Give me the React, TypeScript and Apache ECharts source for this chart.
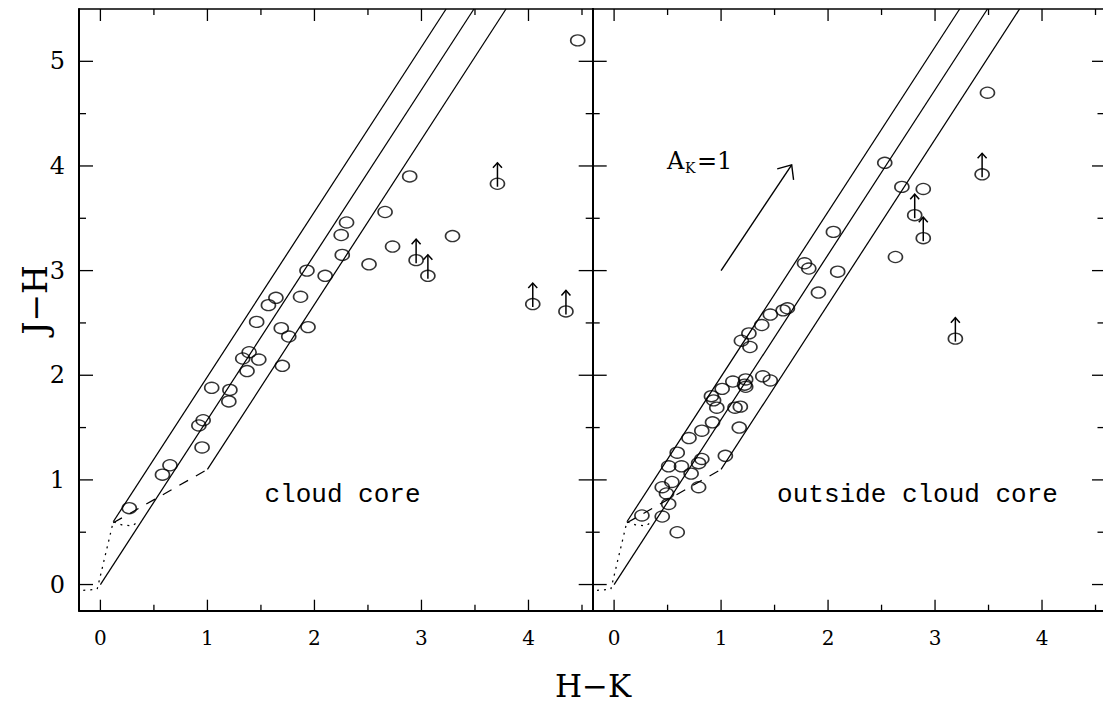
import React, { useEffect, useRef } from "react";
import * as echarts from "echarts";

// ---------- data ----------
const leftXRange = [-0.2, 4.6];
const rightXRange = [-0.2, 4.57];
const yRange = [-0.25, 5.5];

const xMajorTicks = [0, 1, 2, 3, 4];
const xMinorTicks = [0.5, 1.5, 2.5, 3.5, 4.5];
const yMajorTicks = [0, 1, 2, 3, 4, 5];
const yMinorTicks = [0.5, 1.5, 2.5, 3.5, 4.5];

const bandUpper = [[0.12, 0.6], [3.23, 5.5]];
const bandMiddle = [[0, 0], [3.49, 5.5]];
const bandLower = [[1.0, 1.1], [3.79, 5.5]];
const cttsLocus = [[0.12, 0.59], [1.0, 1.1]];
const dwarfLocus = [[-0.16, -0.055], [-0.03, -0.045], [0.12, 0.6], [0.2, 0.57], [0.3, 0.56], [0.35, 0.6]];

const leftCircles = [
  [0.27, 0.73], [0.58, 1.05], [0.65, 1.14], [0.92, 1.52], [0.96, 1.57], [0.95, 1.31],
  [1.04, 1.88], [1.21, 1.86], [1.2, 1.75], [1.33, 2.16], [1.39, 2.22], [1.37, 2.04],
  [1.48, 2.15], [1.46, 2.51], [1.57, 2.67], [1.64, 2.74], [1.69, 2.45], [1.7, 2.09],
  [1.76, 2.37], [1.87, 2.75], [1.93, 3.0], [1.94, 2.46], [2.1, 2.95], [2.25, 3.34],
  [2.26, 3.15], [2.3, 3.46], [2.51, 3.06], [2.66, 3.56], [2.73, 3.23], [2.89, 3.9],
  [3.29, 3.33], [4.46, 5.2],
];
const leftLimits = [[2.95, 3.1], [3.06, 2.95], [3.71, 3.83], [4.04, 2.68], [4.35, 2.61]];

const rightCircles = [
  [0.26, 0.66], [0.45, 0.65], [0.59, 0.5], [0.51, 0.77], [0.49, 0.87], [0.45, 0.93],
  [0.54, 0.98], [0.79, 0.93], [0.51, 1.13], [0.63, 1.13], [0.72, 1.06], [0.79, 1.16],
  [0.82, 1.2], [0.59, 1.26], [1.04, 1.23], [0.7, 1.4], [0.82, 1.47], [0.92, 1.55],
  [1.17, 1.5], [0.96, 1.69], [0.93, 1.76], [0.91, 1.8], [1.13, 1.69], [1.18, 1.7],
  [1.01, 1.87], [1.11, 1.94], [1.23, 1.96], [1.22, 1.91], [1.23, 1.89], [1.39, 1.99],
  [1.46, 1.95], [1.19, 2.33], [1.27, 2.27], [1.26, 2.4], [1.38, 2.48], [1.46, 2.58],
  [1.58, 2.62], [1.62, 2.64], [1.91, 2.79], [1.78, 3.07], [1.82, 3.02], [2.09, 2.99],
  [2.05, 3.37], [2.63, 3.13], [2.53, 4.03], [2.69, 3.8], [2.89, 3.78], [3.49, 4.7],
];
const rightLimits = [[3.44, 3.92], [2.81, 3.53], [2.89, 3.31], [3.19, 2.35]];

const reddeningVector = [[1.0, 3.0, 1.66, 4.01]];

const panelLabels = ["cloud core", "outside cloud core"];

// ---------- styles ----------
const SERIF = '"DejaVu Serif", serif';
const MONO = '"Liberation Mono", monospace';
const BLACK = "#000";

function xAxis(gridIndex: number, position: "bottom" | "top", range: number[]) {
  const bottom = position === "bottom";
  return {
    type: "value",
    gridIndex,
    position,
    min: range[0],
    max: range[1],
    minInterval: 1,
    maxInterval: 1,
    axisLine: { show: true, onZero: false, lineStyle: { color: BLACK, width: bottom ? 2 : 1.5 } },
    axisTick: { show: false },
    minorTick: { show: false },
    axisLabel: {
      show: bottom,
      margin: 17,
      showMinLabel: false,
      showMaxLabel: false,
      color: BLACK,
      fontFamily: SERIF,
      fontSize: 20,
    },
    splitLine: { show: false },
  };
}

function yAxis(gridIndex: number, position: "left" | "right", labels: boolean, line = true) {
  return {
    type: "value",
    gridIndex,
    position,
    min: yRange[0],
    max: yRange[1],
    minInterval: 1,
    maxInterval: 1,
    axisLine: { show: line, onZero: false, lineStyle: { color: BLACK, width: 2 } },
    axisTick: { show: false },
    minorTick: { show: false },
    axisLabel: {
      show: labels,
      margin: 14,
      showMinLabel: false,
      showMaxLabel: false,
      color: BLACK,
      fontFamily: SERIF,
      fontSize: 24,
    },
    splitLine: { show: false },
  };
}

// tick marks on all four sides of a panel, placed through the panel's scales
function tickSeries(panel: number, rightTickLen: number) {
  return {
    type: "custom",
    xAxisIndex: panel * 2,
    yAxisIndex: panel * 2,
    data: [[0, 0]],
    silent: true,
    z: 5,
    renderItem: (params: any, api: any) => {
      const cs = params.coordSys;
      const top = cs.y;
      const bottom = cs.y + cs.height;
      const left = cs.x;
      const right = cs.x + cs.width;
      const style = { stroke: BLACK, lineWidth: 1.3 };
      const children: any[] = [];
      const addX = (v: number, lenB: number, lenT: number) => {
        const px = api.coord([v, 0])[0];
        children.push({ type: "line", shape: { x1: px, y1: bottom, x2: px, y2: bottom - lenB }, style });
        children.push({ type: "line", shape: { x1: px, y1: top, x2: px, y2: top + lenT }, style });
      };
      const addY = (v: number, lenL: number, lenR: number) => {
        const py = api.coord([0, v])[1];
        children.push({ type: "line", shape: { x1: left, y1: py, x2: left + lenL, y2: py }, style });
        children.push({ type: "line", shape: { x1: right, y1: py, x2: right - lenR, y2: py }, style });
      };
      xMajorTicks.forEach((v) => addX(v, 11, 12));
      xMinorTicks.forEach((v) => addX(v, 6, 6));
      yMajorTicks.forEach((v) => addY(v, 14, rightTickLen));
      yMinorTicks.forEach((v) => addY(v, 7, rightTickLen / 2));
      return { type: "group", children };
    },
  };
}

function lineSeries(panel: number, data: number[][], type: any) {
  return {
    type: "line",
    xAxisIndex: panel * 2,
    yAxisIndex: panel * 2,
    data,
    symbol: "none",
    silent: true,
    lineStyle: { color: BLACK, width: 1.25, type },
  };
}

function circleSeries(panel: number, data: number[][]) {
  return {
    type: "scatter",
    xAxisIndex: panel * 2,
    yAxisIndex: panel * 2,
    data,
    symbol: "circle",
    symbolSize: [14, 11],
    silent: true,
    itemStyle: { color: "rgba(255,255,255,0)", borderColor: BLACK, borderWidth: 1.5 },
  };
}

function limitArrowSeries(panel: number, data: number[][]) {
  return {
    type: "custom",
    xAxisIndex: panel * 2,
    yAxisIndex: panel * 2,
    data,
    silent: true,
    renderItem: (_params: any, api: any) => {
      const p = api.coord([api.value(0), api.value(1)]);
      return {
        type: "group",
        children: [
          {
            type: "line",
            shape: { x1: p[0], y1: p[1] + 3, x2: p[0], y2: p[1] - 21 },
            style: { stroke: BLACK, lineWidth: 1.5 },
          },
          {
            type: "polyline",
            shape: { points: [[p[0] - 4.5, p[1] - 16], [p[0], p[1] - 21], [p[0] + 4.5, p[1] - 16]] },
            style: { stroke: BLACK, fill: "none", lineWidth: 1.5 },
          },
        ],
      };
    },
  };
}

function vectorSeries(panel: number, data: number[][]) {
  return {
    type: "custom",
    xAxisIndex: panel * 2,
    yAxisIndex: panel * 2,
    data,
    silent: true,
    renderItem: (_params: any, api: any) => {
      const a = api.coord([api.value(0), api.value(1)]);
      const b = api.coord([api.value(2), api.value(3)]);
      const ang = Math.atan2(a[1] - b[1], a[0] - b[0]);
      const L = 15;
      const spread = (41 * Math.PI) / 180;
      const p1 = [b[0] + L * Math.cos(ang + spread), b[1] + L * Math.sin(ang + spread)];
      const p2 = [b[0] + L * Math.cos(ang - spread), b[1] + L * Math.sin(ang - spread)];
      return {
        type: "group",
        children: [
          { type: "line", shape: { x1: a[0], y1: a[1], x2: b[0], y2: b[1] }, style: { stroke: BLACK, lineWidth: 1.4 } },
          { type: "polyline", shape: { points: [p1, b, p2] }, style: { stroke: BLACK, fill: "none", lineWidth: 1.4 } },
        ],
      };
    },
  };
}

function panelSeries(panel: number, circles: number[][], limits: number[][]) {
  return [
    lineSeries(panel, bandUpper, "solid"),
    lineSeries(panel, bandMiddle, "solid"),
    lineSeries(panel, bandLower, "solid"),
    lineSeries(panel, cttsLocus, [10, 9]),
    lineSeries(panel, dwarfLocus, [2, 5]),
    circleSeries(panel, circles),
    circleSeries(panel, limits),
    limitArrowSeries(panel, limits),
  ];
}

function buildOption() {
  return {
    animation: false,
    grid: [
      { left: 79, top: 9, width: 513.7, height: 601.7 },
      { left: 592.7, top: 9, width: 510.3, height: 601.7 },
    ],
    xAxis: [
      xAxis(0, "bottom", leftXRange),
      xAxis(0, "top", leftXRange),
      xAxis(1, "bottom", rightXRange),
      xAxis(1, "top", rightXRange),
    ],
    yAxis: [
      yAxis(0, "left", true),
      yAxis(0, "right", false),
      yAxis(1, "left", false),
      yAxis(1, "right", false, false),
    ],
    series: [
      tickSeries(0, 14),
      tickSeries(1, 11),
      ...panelSeries(0, leftCircles, leftLimits),
      ...panelSeries(1, rightCircles, rightLimits),
      vectorSeries(1, reddeningVector),
    ],
    graphic: [
      {
        type: "text",
        x: 342.5,
        y: 495,
        style: { text: panelLabels[0], fill: BLACK, font: `26px ${MONO}`, textAlign: "center", textVerticalAlign: "middle" },
      },
      {
        type: "text",
        x: 917.5,
        y: 495,
        style: { text: panelLabels[1], fill: BLACK, font: `26px ${MONO}`, textAlign: "center", textVerticalAlign: "middle" },
      },
      {
        type: "text",
        x: 593,
        y: 686,
        style: { text: "H\u2212K", fill: BLACK, font: `31px ${SERIF}`, textAlign: "center", textVerticalAlign: "middle" },
      },
      {
        type: "text",
        x: 35,
        y: 300,
        rotation: Math.PI / 2,
        style: { text: "J\u2212H", fill: BLACK, font: `33px ${SERIF}`, textAlign: "center", textVerticalAlign: "middle" },
      },
      {
        type: "text",
        x: 667,
        y: 161,
        style: { text: "A", fill: BLACK, font: `24px ${SERIF}`, textAlign: "left", textVerticalAlign: "middle" },
      },
      {
        type: "text",
        x: 685,
        y: 168,
        style: { text: "K", fill: BLACK, font: `14px ${SERIF}`, textAlign: "left", textVerticalAlign: "middle" },
      },
      {
        type: "text",
        x: 697,
        y: 161,
        style: { text: "=1", fill: BLACK, font: `24px ${SERIF}`, textAlign: "left", textVerticalAlign: "middle" },
      },
    ],
  };
}

export default function App() {
  const ref = useRef<HTMLDivElement>(null);
  useEffect(() => {
    const chart = echarts.init(ref.current as HTMLDivElement, null, { renderer: "svg" });
    chart.setOption(buildOption() as any);
    return () => chart.dispose();
  }, []);
  return (
    <div ref={ref} style={{ position: "fixed", left: 0, top: 0, width: 1103, height: 704, background: "#fff" }} />
  );
}
